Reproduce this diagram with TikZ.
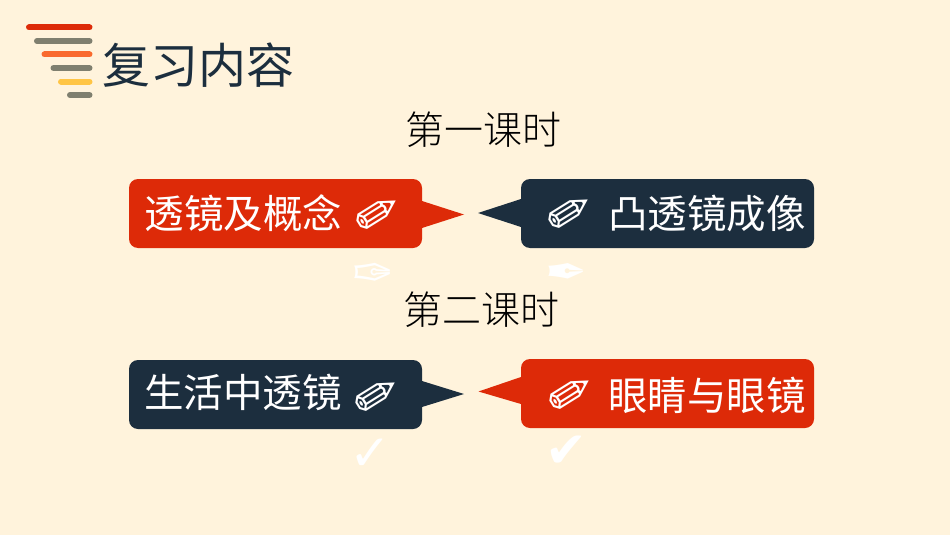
\documentclass[tikz,border=0pt]{standalone}
\usepackage{fontspec}
\usepackage{xcolor}
\setmainfont{Noto Sans CJK SC}
\newfontfamily\lightfont{Noto Sans CJK SC Light}
\newfontfamily\symfont{DejaVu Sans}
\definecolor{paper}{HTML}{FFF3DC}
\definecolor{navy}{HTML}{1C2E3E}
\definecolor{brick}{HTML}{DD2A08}
\definecolor{ash}{HTML}{7F7F6F}
\definecolor{tangerine}{HTML}{F96A2E}
\definecolor{honey}{HTML}{FFC545}
\tikzset{x=1pt,y=-1pt,
 bar/.style={line width=6pt,line cap=round},
 callbox/.style={minimum width=293pt,minimum height=69pt,inner sep=0pt,outer sep=0pt,rounded corners=9pt},
 redbox/.style={callbox,fill=brick},
 navybox/.style={callbox,fill=navy},
 boxtext/.style={text=white,inner sep=0pt,font=\fontsize{39.5}{40}\selectfont},
 lesson/.style={text=black,inner sep=0pt,font=\lightfont\fontsize{39}{40}\selectfont},
 pencil/.style={text=white,inner sep=0pt,rotate=-13,font=\symfont\fontsize{54}{56}\selectfont},
 faint/.style={text=white,inner sep=0pt,font=\symfont\fontsize{50}{52}\selectfont},
 }

\begin{document}
\begin{tikzpicture}
        \fill[paper] (0,0) rectangle (950,535);
        \useasboundingbox (0,0) rectangle (950,535);
        \draw[bar,brick] (29,27.5) -- (89.5,27.5);
        \draw[bar,ash] (37,41) -- (89.5,41);
        \draw[bar,tangerine] (44.5,54.5) -- (89.5,54.5);
        \draw[bar,ash] (53.5,68) -- (89.5,68);
        \draw[bar,honey] (61,81.5) -- (89.5,81.5);
        \draw[bar,ash] (70,95) -- (89.5,95);
        \node[text=navy,inner sep=0pt,font=\fontsize{48}{50}\selectfont] (title) at (198,65) {复习内容};
        \node[lesson] (first) at (483.5,130) {第一课时};
        \node[lesson] (second) at (481,310) {第二课时};
        \node[redbox] (lens) at (275.5,213.5) {};
        \node[navybox] (convex) at (667.5,213.5) {};
        \node[navybox] (life) at (275.5,394.5) {};
        \node[redbox] (eye) at (667.5,393.5) {};
        \fill[brick] (422,201) -- (464,214.5) -- (422,228) -- cycle;
        \fill[navy] (521,199) -- (478,213) -- (521,227) -- cycle;
        \fill[navy] (422,381) -- (464,394) -- (422,407) -- cycle;
        \fill[brick] (521,377) -- (478.5,391.5) -- (521,404) -- cycle;
        \node[boxtext] (lenstext) at (243.5,213) {透镜及概念};
        \node[boxtext] (convextext) at (707,214) {凸透镜成像};
        \node[boxtext] (lifetext) at (243,392) {生活中透镜};
        \node[boxtext] (eyetext) at (707,395) {眼睛与眼镜};
        \node[pencil] (lenspencil) at (375.5,216) {✐};
        \node[pencil] (convexpencil) at (567.5,215) {✐};
        \node[pencil] (lifepencil) at (375,398) {✐};
        \node[pencil] (eyepencil) at (569,396) {✐};
        \node[faint] (hollownib) at (373,277) {✑};
        \node[faint] (solidnib) at (566,276) {✒};
        \node[faint] (thincheck) at (370,455) {✓};
        \node[faint] (boldcheck) at (566,452) {✔};
    \end{tikzpicture}
\end{document}
